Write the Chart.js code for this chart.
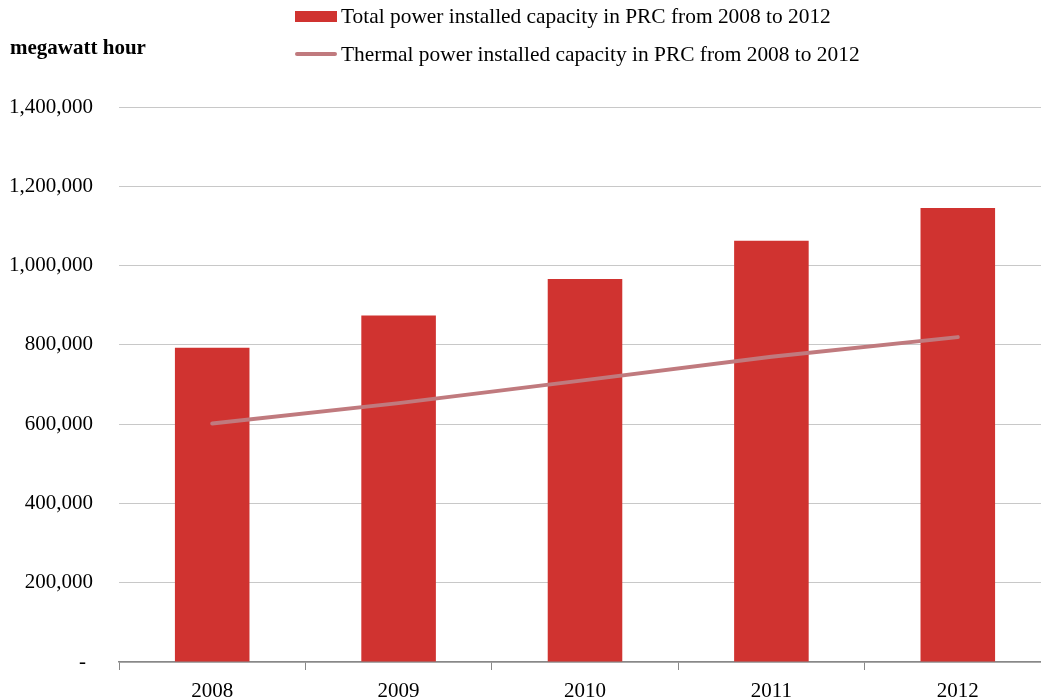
<!DOCTYPE html>
<html>
<head>
<meta charset="utf-8">
<script src="https://cdn.jsdelivr.net/npm/chart.js@4"></script>
<style>
    body { margin: 0; overflow: hidden; background: #fff; }
    #wrap { position: relative; width: 1051px; height: 699px; }
    #unitLabel {
        position: absolute; left: 10px; top: 35px;
        font: bold 21px "Liberation Serif", serif; color: #000;
    }
    #legend { position: absolute; left: 295px; top: -3px; font: 21.4px "Liberation Serif", serif; color: #000; }
    .legend-row { height: 38px; display: flex; align-items: center; }
    .legend-row .swatch { width: 42px; margin-right: 4px; }
</style>
</head>
<body>
<div id="wrap">
    <canvas id="powerChart" width="1051" height="699"></canvas>
    <div id="unitLabel"></div>
    <div id="legend"></div>
</div>
<script>
const years = ['2008', '2009', '2010', '2011', '2012'];
const totalCapacity = [792500, 874000, 966000, 1062500, 1145000];
const thermalCapacity = [601500, 653000, 711000, 770000, 819500];
const totalLabel = 'Total power installed capacity in PRC from 2008 to 2012';
const thermalLabel = 'Thermal power installed capacity in PRC from 2008 to 2012';
const unitText = 'megawatt hour';
const yTicks = [0, 200000, 400000, 600000, 800000, 1000000, 1200000, 1400000];

const barColor = '#d03330';
const lineColor = '#c07a7e';

function formatTick(value) {
    if (value === 0) return '- \u200A';
    return value.toLocaleString('en-US');
}

document.getElementById('unitLabel').textContent = unitText;

let legendHtml = '';
legendHtml += '<div class="legend-row"><span class="swatch" style="height:11px;background:' + barColor + '"></span>' + totalLabel + '</div>';
legendHtml += '<div class="legend-row"><span class="swatch" style="height:4px;border-radius:2px;background:' + lineColor + '"></span>' + thermalLabel + '</div>';
document.getElementById('legend').innerHTML = legendHtml;

const ctx = document.getElementById('powerChart').getContext('2d');
const powerChart = new Chart(ctx, {
    data: {
        labels: years,
        datasets: [
            {
                type: 'line',
                label: thermalLabel,
                data: thermalCapacity,
                borderColor: lineColor,
                borderWidth: 4,
                borderCapStyle: 'round',
                pointRadius: 0,
                tension: 0,
                order: 0
            },
            {
                type: 'bar',
                label: totalLabel,
                data: totalCapacity,
                backgroundColor: barColor,
                barPercentage: 0.4,
                categoryPercentage: 1,
                order: 1
            }
        ]
    },
    options: {
        responsive: false,
        animation: false,
        layout: { padding: { top: 107, left: 0, right: 0, bottom: 0 } },
        plugins: {
            legend: { display: false },
            tooltip: { enabled: false }
        },
        scales: {
            y: {
                min: 0,
                max: 1400000,
                afterBuildTicks: (scale) => {
                    scale.ticks = yTicks.map(v => ({ value: v }));
                },
                afterFit: (scale) => {
                    // tick padding would otherwise leak into the bottom margin
                    scale.width = 119;
                    scale.paddingTop = 0;
                    scale.paddingBottom = 0;
                },
                grid: { color: '#c8c8c8', lineWidth: 1, drawTicks: false },
                border: { display: false },
                ticks: {
                    padding: 26,
                    color: '#000',
                    font: { family: '"Liberation Serif", serif', size: 21 },
                    callback: (value) => formatTick(value)
                }
            },
            x: {
                afterFit: (scale) => { scale.height = 37; },
                grid: {
                    offset: true,
                    drawOnChartArea: false,
                    drawTicks: true,
                    tickLength: 8,
                    color: '#888'
                },
                border: { display: true, color: '#888', width: 1.5 },
                ticks: {
                    padding: 9,
                    color: '#000',
                    font: { family: '"Liberation Serif", serif', size: 21 }
                }
            }
        }
    }
});
</script>
</body>
</html>
